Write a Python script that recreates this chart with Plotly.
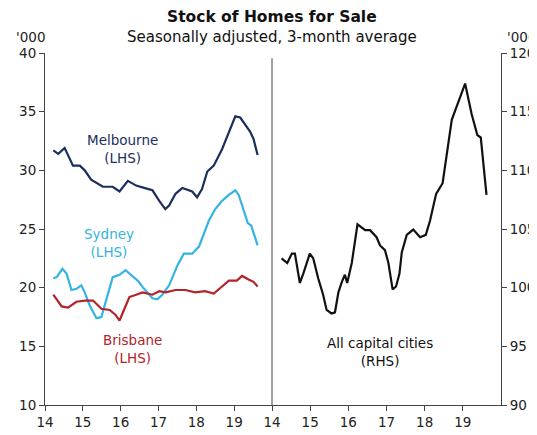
import plotly.graph_objects as go

# ---- data (decimal years, '000 homes) ----
mel_x = [14.22, 14.35, 14.52, 14.74, 14.92, 15.05, 15.22, 15.53, 15.79, 15.97, 16.19, 16.41, 16.62, 16.84,
         17.02, 17.18, 17.28, 17.45, 17.63, 17.89, 18.02, 18.15, 18.29, 18.46, 18.68, 18.86, 19.03, 19.16,
         19.42, 19.51, 19.62]
mel_y = [31.7, 31.4, 31.9, 30.4, 30.4, 30.0, 29.2, 28.6, 28.6, 28.2, 29.1, 28.7, 28.5, 28.3,
         27.4, 26.7, 27.0, 28.0, 28.5, 28.2, 27.7, 28.4, 29.9, 30.4, 31.8, 33.3, 34.6, 34.5,
         33.3, 32.7, 31.3]

syd_x = [14.22, 14.31, 14.46, 14.57, 14.70, 14.83, 14.96, 15.05, 15.18, 15.36, 15.49, 15.62, 15.79, 15.97,
         16.13, 16.27, 16.45, 16.62, 16.84, 16.97, 17.10, 17.28, 17.50, 17.67, 17.89, 18.07, 18.20, 18.33,
         18.50, 18.68, 18.86, 19.03, 19.12, 19.29, 19.36, 19.45, 19.62]
syd_y = [20.8, 20.9, 21.6, 21.2, 19.8, 19.9, 20.2, 19.6, 18.5, 17.4, 17.5, 18.9, 20.9, 21.1,
         21.5, 21.1, 20.6, 19.9, 19.1, 19.0, 19.4, 20.2, 21.9, 22.9, 22.9, 23.5, 24.6, 25.7,
         26.7, 27.4, 27.9, 28.3, 27.9, 26.3, 25.5, 25.3, 23.6]

bri_x = [14.22, 14.44, 14.61, 14.83, 15.05, 15.27, 15.49, 15.71, 15.86, 15.97, 16.10, 16.23, 16.41, 16.58,
         16.84, 17.02, 17.19, 17.45, 17.71, 17.97, 18.23, 18.46, 18.68, 18.86, 19.07, 19.21, 19.38, 19.51,
         19.62]
bri_y = [19.4, 18.4, 18.3, 18.8, 18.9, 18.9, 18.2, 18.1, 17.7, 17.2, 18.2, 19.2, 19.4, 19.6,
         19.4, 19.7, 19.6, 19.8, 19.8, 19.6, 19.7, 19.5, 20.1, 20.6, 20.6, 21.0, 20.7, 20.5,
         20.1]

all_x = [14.25, 14.40, 14.52, 14.60, 14.73, 14.82, 14.99, 15.08, 15.21, 15.34, 15.43, 15.56, 15.65, 15.74,
         15.83, 15.91, 15.97, 16.09, 16.24, 16.44, 16.57, 16.74, 16.83, 16.96, 17.05, 17.16, 17.25, 17.34,
         17.40, 17.53, 17.70, 17.88, 18.03, 18.14, 18.30, 18.47, 18.71, 18.88, 19.06, 19.23, 19.38, 19.47,
         19.62]
all_y = [102.5, 102.1, 102.9, 102.9, 100.4, 101.2, 102.9, 102.5, 100.8, 99.4, 98.1, 97.8, 97.9, 99.6,
         100.5, 101.1, 100.4, 102.1, 105.4, 104.9, 104.9, 104.3, 103.6, 103.2, 102.1, 99.85, 100.1, 101.2,
         103.0, 104.5, 104.95, 104.3, 104.5, 105.7, 108.0, 108.9, 114.3, 115.8, 117.4, 114.8, 113.0, 112.8,
         107.9]

year_ticks = [14, 15, 16, 17, 18, 19]
year_labels = ["14", "15", "16", "17", "18", "19"]
lhs_ticks = [10, 15, 20, 25, 30, 35, 40]
rhs_ticks = [90, 95, 100, 105, 110, 115, 120]

c_mel = "#1b2f5c"
c_syd = "#35b3e3"
c_bri = "#b3232a"
c_all = "#111111"

FONT = "DejaVu Sans, Liberation Sans, Arial, sans-serif"
TICK = 13.5
PH = 352  # plot height in px
PW = 456  # plot width in px

fig = go.Figure()
fig.add_trace(go.Scatter(x=mel_x, y=mel_y, mode="lines", line=dict(color=c_mel, width=2.2), xaxis="x", yaxis="y"))
fig.add_trace(go.Scatter(x=syd_x, y=syd_y, mode="lines", line=dict(color=c_syd, width=2.2), xaxis="x", yaxis="y"))
fig.add_trace(go.Scatter(x=bri_x, y=bri_y, mode="lines", line=dict(color=c_bri, width=2.2), xaxis="x", yaxis="y"))
fig.add_trace(go.Scatter(x=all_x, y=all_y, mode="lines", line=dict(color=c_all, width=2.2), xaxis="x2", yaxis="y2"))

split = 227 / PW
axcol = "#444444"
common_x = dict(range=[14, 20], tickvals=year_ticks, ticktext=year_labels, showgrid=False, zeroline=False,
                showline=True, linecolor=axcol, linewidth=1, ticks="outside", ticklen=5, tickcolor=axcol,
                tickfont=dict(size=TICK, color="#222", family=FONT), automargin=False)
fig.update_layout(
    width=529, height=427,
    margin=dict(l=37, r=36, t=45, b=30),
    paper_bgcolor="white", plot_bgcolor="white",
    showlegend=False,
    font=dict(family=FONT, color="#222"),
    xaxis=dict(domain=[0, split], anchor="y", **common_x),
    xaxis2=dict(domain=[split, 1], anchor="y2", **common_x),
    yaxis=dict(domain=[0, 1], anchor="x", range=[10, 40], tickvals=lhs_ticks, showgrid=False, zeroline=False,
               showline=True, linecolor=axcol, linewidth=1, ticks="outside", ticklen=5, tickcolor=axcol,
               tickfont=dict(size=TICK, color="#222", family=FONT), automargin=False),
    yaxis2=dict(domain=[0, 1], anchor="x2", side="right", range=[90, 120], tickvals=rhs_ticks, showgrid=False,
                zeroline=False, showline=True, linecolor=axcol, linewidth=1, ticks="outside", ticklen=5,
                tickcolor=axcol, tickfont=dict(size=TICK, color="#222", family=FONT), automargin=False),
)
fig.add_shape(type="line", xref="paper", yref="paper", x0=split, x1=split, y0=0, y1=0.985,
              line=dict(color=axcol, width=1))

fig.add_annotation(text="<b>Stock of Homes for Sale</b>", xref="paper", yref="paper", x=split, y=1 + 36 / PH,
                   showarrow=False, font=dict(size=15.5, color="#111", family=FONT), xanchor="center", yanchor="middle")
fig.add_annotation(text="Seasonally adjusted, 3-month average", xref="paper", yref="paper", x=split, y=1 + 16 / PH,
                   showarrow=False, font=dict(size=15, color="#111", family=FONT), xanchor="center", yanchor="middle")
fig.add_annotation(text="'000", xref="paper", yref="paper", x=-15 / PW, y=1 + 16 / PH,
                   showarrow=False, font=dict(size=TICK, color="#222", family=FONT), xanchor="center", yanchor="middle")
fig.add_annotation(text="'000", xref="paper", yref="paper", x=1 + 20 / PW, y=1 + 16 / PH,
                   showarrow=False, font=dict(size=TICK, color="#222", family=FONT), xanchor="center", yanchor="middle")

fig.add_annotation(text="Melbourne<br>(LHS)", x=16.05, y=31.85, xref="x", yref="y", showarrow=False,
                   font=dict(size=TICK, color=c_mel, family=FONT))
fig.add_annotation(text="Sydney<br>(LHS)", x=15.7, y=23.8, xref="x", yref="y", showarrow=False,
                   font=dict(size=TICK, color=c_syd, family=FONT))
fig.add_annotation(text="Brisbane<br>(LHS)", x=16.3, y=14.8, xref="x", yref="y", showarrow=False,
                   font=dict(size=TICK, color=c_bri, family=FONT))
fig.add_annotation(text="All capital cities<br>(RHS)", x=16.83, y=94.5, xref="x2", yref="y2", showarrow=False,
                   font=dict(size=TICK, color="#111", family=FONT))

fig.write_html("out.html")
